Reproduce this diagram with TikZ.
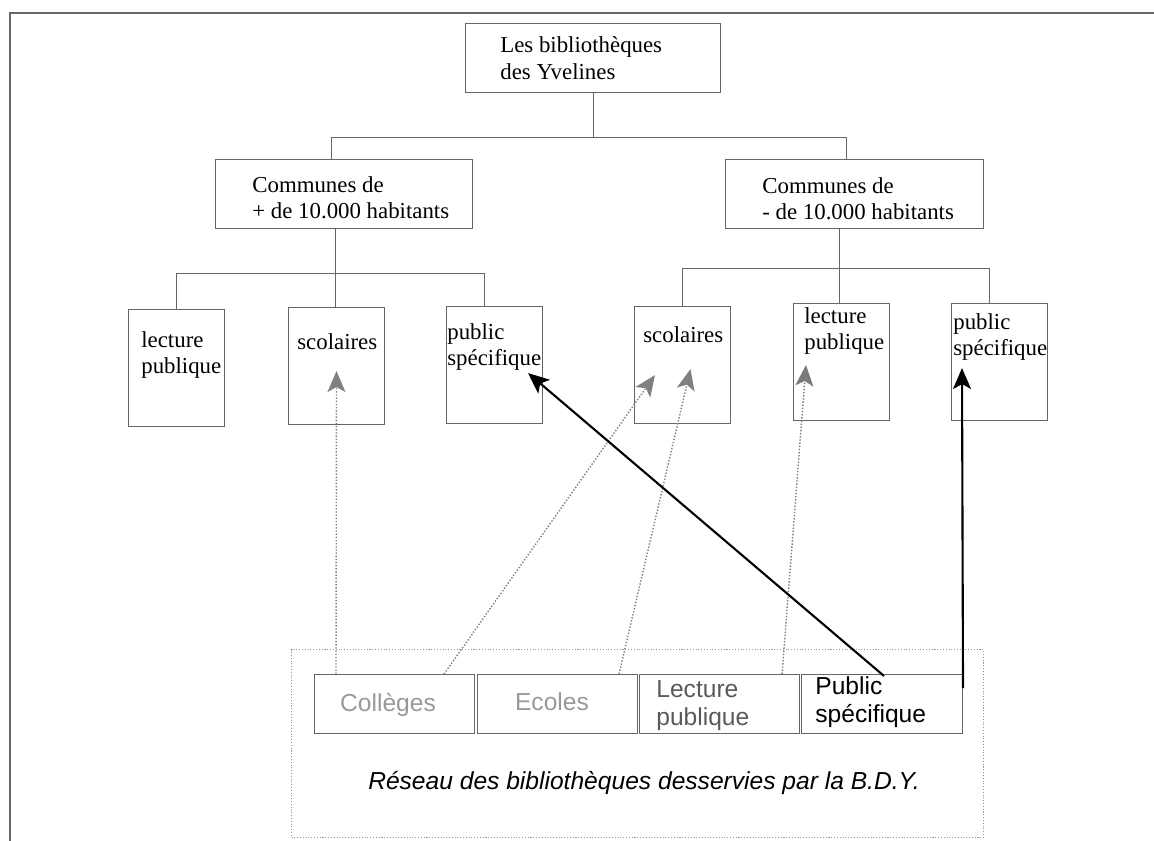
\documentclass[tikz,border=0pt]{standalone}
\usepackage{fontspec}
\setmainfont{Liberation Serif}
\setsansfont{Liberation Sans}
\usepackage{tikz}
\usetikzlibrary{arrows.meta}
\definecolor{trait}{rgb}{0.4,0.4,0.4}
\definecolor{grisclair}{rgb}{0.6,0.6,0.6}
\definecolor{grisfonce}{rgb}{0.35,0.35,0.35}
\definecolor{grisfleche}{rgb}{0.5,0.5,0.5}
\tikzstyle{boite}=[draw=trait,line width=0.6pt,inner sep=0pt,anchor=north west]
\tikzstyle{niveau}=[boite,minimum height=1.38cm]
\tikzstyle{feuille}=[boite,minimum width=1.92cm,minimum height=2.34cm]
\tikzstyle{service}=[boite,minimum width=3.2cm,minimum height=1.18cm]
\tikzstyle{texte}=[inner sep=0pt,align=left,anchor=west,font=\fontsize{13}{15}\selectfont]
\tikzstyle{etiquette}=[inner sep=0pt,align=left,font=\sffamily\fontsize{14}{16}\selectfont]
\tikzstyle{lien}=[draw=trait,line width=0.5pt]
\tikzstyle{fleche}=[-{Stealth[length=0.42cm,width=0.36cm,inset=0.1cm]}]
\tikzstyle{fleche grise}=[fleche,grisfleche,densely dotted,line width=0.8pt]
\tikzstyle{fleche noire}=[fleche,black,line width=1.2pt]

\begin{document}
\begin{tikzpicture}[x=0.02cm,y=-0.02cm]
\useasboundingbox (0,0) rectangle (1154,840);
\clip (0,0) rectangle (1154,840);

% cadre
\draw[trait,line width=1.2pt] (1170,13) -- (10,13) -- (10,860);

% niveau 1 et 2
\node[niveau,minimum width=5.1cm] (top) at (465,23) {};
\node[texte] (top-t) at (500,58) {Les bibliothèques\\des Yvelines};
\node[niveau,minimum width=5.14cm] (midL) at (215,159) {};
\node[texte] (midL-t) at (252,198) {Communes de\\+ de 10.000 habitants};
\node[niveau,minimum width=5.16cm] (midR) at (725,159) {};
\node[texte] (midR-t) at (762,199) {Communes de\\- de 10.000 habitants};

\draw[lien] (top.south) -- ++(0,44) coordinate (bar0);
\draw[lien] ([xshift=-0.25cm]midL.north) |- (bar0) -| ([xshift=-0.16cm]midR.north);

% feuilles
\node[feuille] (lecL) at (128,309) {};
\node[texte] (lecL-t) at (141,355) {lecture\\publique};
\node[feuille] (scoL) at (288,307) {};
\node[texte] (scoL-t) at (297,342) {scolaires};
\node[feuille] (pubL) at (446,306) {};
\node[texte] (pubL-t) at (447,347) {public\\spécifique};
\node[feuille] (scoR) at (634,306) {};
\node[texte] (scoR-t) at (643,335) {scolaires};
\node[feuille] (lecR) at (793,303) {};
\node[texte] (lecR-t) at (804,331) {lecture\\publique};
\node[feuille] (pubR) at (951,303) {};
\node[texte] (pubR-t) at (953,337) {public\\spécifique};

\draw[lien] ([xshift=-0.17cm]midL.south) -- ++(0,44) coordinate (barL);
\draw[lien] (lecL.north) |- (barL) -| ([xshift=-0.2cm]pubL.north);
\draw[lien] (barL) -- (barL |- scoL.north);
\draw[lien] ([xshift=-0.3cm]midR.south) -- ++(0,39) coordinate (barR);
\draw[lien] (scoR.north) |- (barR) -| ([xshift=-0.2cm]pubR.north);
\draw[lien] (barR) -- (barR |- lecR.north);

% reseau B.D.Y.
\node[boite,draw=grisclair,densely dotted,minimum width=13.84cm,minimum height=3.76cm] (reseau) at (291,649) {};
\node[service] (col) at (314,674) {};
\node[etiquette,grisclair,anchor=center] (col-t) at (388,705) {Collèges};
\node[service] (eco) at (477,674) {};
\node[etiquette,grisclair,anchor=center] (eco-t) at (552,702) {Ecoles};
\node[service] (lec) at (639,674) {};
\node[etiquette,grisfonce,anchor=west] (lec-t) at (656,706) {Lecture\\publique};
\node[service,minimum width=3.22cm] (pub) at (801,674) {};
\node[etiquette,anchor=west] (pub-t) at (815,702) {Public\\spécifique};
\node[etiquette,font=\sffamily\itshape\fontsize{14}{16}\selectfont] (reseau-t) at (644,783) {Réseau des bibliothèques desservies par la B.D.Y.};

% fleches
\draw[fleche grise] ([xshift=0.44cm]col.north west) -- ([yshift=1.08cm]scoL.south);
\draw[fleche grise] ([xshift=-0.62cm]col.north east) -- ([xshift=0.42cm,yshift=0.98cm]scoR.south west);
\draw[fleche grise] ([xshift=-0.38cm]eco.north east) -- ([xshift=0.16cm,yshift=1.1cm]scoR.south);
\draw[fleche grise,grisfonce!80] ([xshift=-0.36cm]lec.north east) -- ([xshift=0.26cm,yshift=1.12cm]lecR.south west);
\draw[fleche noire] ([xshift=-1.58cm,yshift=-0.04cm]pub.north east) -- ([xshift=-0.3cm,yshift=1.02cm]pubL.south east);
\draw[fleche noire] ([yshift=-0.28cm]pub.north east) -- ([xshift=0.22cm,yshift=1.06cm]pubR.south west);

\end{tikzpicture}
\end{document}
